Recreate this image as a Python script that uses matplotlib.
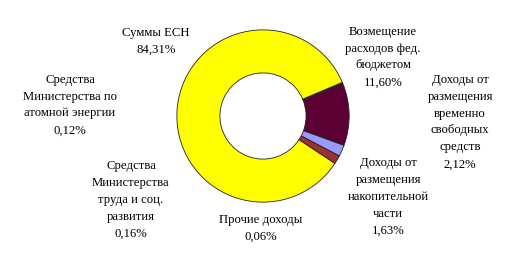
import matplotlib.pyplot as plt

# clockwise order, starting at the upper-right edge of the ring
names = [
    "Средства\nМинистерства по\nатомной энергии",
    "Средства\nМинистерства\nтруда и соц.\nразвития",
    "Возмещение\nрасходов фед.\nбюджетом",
    "Прочие доходы",
    "Доходы от\nразмещения\nвременно\nсвободных\nсредств",
    "Доходы от\nразмещения\nнакопительной\nчасти",
    "Суммы ЕСН",
]
shares = [0.12, 0.16, 11.60, 0.06, 2.12, 1.63, 84.31]
colors = ["#339999", "#99CCCC", "#5C0033", "#FF6600", "#9999FF", "#993333", "#FFFF00"]

# label centres in pixels (x from left, y from top)
label_xy = [(70, 105), (131, 200), (383, 57), (261, 228), (460, 122), (388, 197), (156, 41)]

W, H = 522, 265
fig = plt.figure(figsize=(W / 100, H / 100), dpi=100)

cx, cy, r = 263, 116, 87
ax = fig.add_axes([(cx - r) / W, (H - cy - r) / H, 2 * r / W, 2 * r / H])
ax.pie(
    shares,
    colors=colors,
    startangle=23,
    counterclock=False,
    radius=1.0,
    wedgeprops=dict(width=0.5, edgecolor="#222222", linewidth=0.6),
)
ax.set_xlim(-1.01, 1.01)
ax.set_ylim(-1.01, 1.01)
ax.set_aspect("equal")
ax.axis("off")

for name, val, (x, y) in zip(names, shares, label_xy):
    pct = f"{val:.2f}%".replace(".", ",")
    fig.text(x / W, 1 - y / H, f"{name}\n{pct}", ha="center", va="center",
             family="Liberation Serif", fontsize=9.2, linespacing=1.55)

fig.savefig("out.png", dpi=100)
